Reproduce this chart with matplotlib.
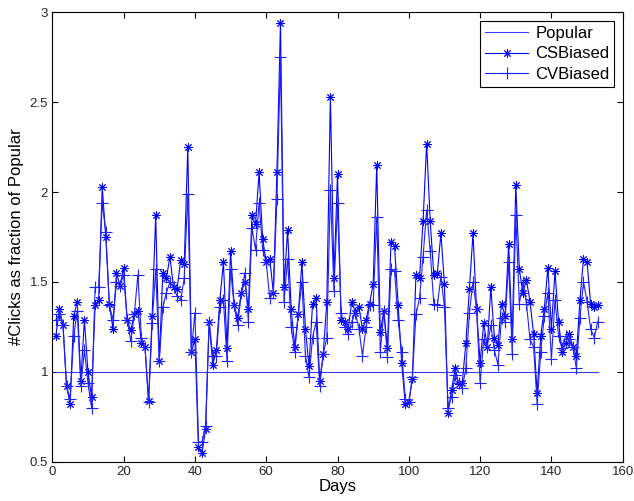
import matplotlib
matplotlib.use("Agg")
import matplotlib.pyplot as plt
from matplotlib.ticker import FormatStrFormatter

plt.rcParams['font.family'] = ['Liberation Sans', 'DejaVu Sans']

# values, days 1..153
cs_biased = [1.20, 1.35, 1.26, 0.92, 0.82, 1.31, 1.39, 0.95, 1.29, 1.00,
             0.86, 1.37, 1.40, 2.03, 1.75, 1.38, 1.24, 1.55, 1.48, 1.58,
             1.29, 1.23, 1.32, 1.34, 1.16, 1.14, 0.84, 1.31, 1.87, 1.06,
             1.55, 1.52, 1.64, 1.47, 1.46, 1.62, 1.60, 2.25, 1.11, 1.18,
             0.58, 0.55, 0.68, 1.28, 1.04, 1.12, 1.40, 1.61, 1.13, 1.67,
             1.37, 1.30, 1.44, 1.50, 1.35, 1.87, 1.82, 2.11, 1.74, 1.61,
             1.63, 1.44, 2.11, 2.94, 1.47, 1.79, 1.35, 1.14, 1.32, 1.61,
             1.24, 1.03, 1.38, 1.41, 0.95, 1.10, 1.39, 2.53, 1.52, 2.10,
             1.29, 1.28, 1.24, 1.39, 1.33, 1.36, 1.24, 1.29, 1.38, 1.49,
             2.15, 1.22, 1.34, 1.13, 1.72, 1.70, 1.37, 1.05, 0.82, 0.83,
             0.96, 1.54, 1.52, 1.84, 2.27, 1.84, 1.54, 1.55, 1.77, 1.49,
             0.77, 0.90, 1.02, 0.93, 0.94, 1.16, 1.46, 1.77, 1.35, 1.05,
             1.27, 1.14, 1.47, 1.19, 1.15, 1.38, 1.31, 1.71, 1.18, 2.04,
             1.57, 1.44, 1.51, 1.39, 1.21, 0.88, 1.20, 1.35, 1.58, 1.24,
             1.56, 1.28, 1.11, 1.16, 1.21, 1.14, 1.09, 1.40, 1.63, 1.61,
             1.38, 1.36, 1.37]

cv_biased = [1.29, 1.32, 1.26, 0.92, 0.85, 1.20, 1.34, 0.92, 1.12, 0.94,
             0.80, 1.47, 1.47, 1.94, 1.78, 1.37, 1.29, 1.50, 1.48, 1.54,
             1.29, 1.17, 1.32, 1.54, 1.19, 1.14, 0.83, 1.27, 1.57, 1.06,
             1.36, 1.44, 1.50, 1.47, 1.42, 1.40, 1.52, 1.99, 1.11, 1.33,
             0.61, 0.61, 0.70, 1.28, 1.09, 1.09, 1.36, 1.40, 1.06, 1.57,
             1.37, 1.26, 1.44, 1.55, 1.28, 1.80, 1.68, 1.94, 1.68, 1.61,
             1.41, 1.44, 1.96, 2.75, 1.39, 1.63, 1.25, 1.11, 1.32, 1.50,
             1.09, 0.97, 1.19, 1.28, 0.92, 1.10, 1.19, 2.01, 1.45, 1.94,
             1.33, 1.25, 1.21, 1.28, 1.33, 1.24, 1.09, 1.25, 1.37, 1.37,
             1.86, 1.11, 1.34, 1.08, 1.57, 1.56, 1.29, 1.11, 0.85, 0.83,
             0.97, 1.32, 1.41, 1.64, 1.90, 1.67, 1.38, 1.37, 1.53, 1.36,
             0.80, 0.86, 0.98, 0.94, 0.91, 1.02, 1.33, 1.50, 1.35, 0.94,
             1.18, 1.14, 1.26, 1.12, 1.04, 1.30, 1.28, 1.61, 1.10, 1.87,
             1.38, 1.50, 1.38, 1.18, 1.14, 0.82, 1.11, 1.31, 1.44, 1.07,
             1.40, 1.20, 1.13, 1.20, 1.18, 1.14, 1.02, 1.30, 1.50, 1.39,
             1.24, 1.19, 1.28]

days = list(range(1, len(cs_biased) + 1))
popular = [1.0] * len(days)

fig = plt.figure(figsize=(6.34, 5.01), dpi=100)
ax = fig.add_axes([0.0825, 0.0784, 0.8997, 0.897])

ax.plot(days, popular, color='#3a3aff', linewidth=0.8, label='Popular')
ax.plot(days, cs_biased, color='#0000ff', linewidth=0.8, marker=(8, 2, 0),
        markersize=6, markeredgewidth=0.7, label='CSBiased')
ax.plot(days, cv_biased, color='#2020ff', linewidth=0.8, marker='+',
        markersize=8, markeredgewidth=0.8, label='CVBiased')

ax.set_xlim(0, 160)
ax.set_ylim(0.5, 3)
ax.set_xticks(range(0, 161, 20))
ax.set_yticks([0.5, 1, 1.5, 2, 2.5, 3])
ax.yaxis.set_major_formatter(FormatStrFormatter('%g'))
ax.tick_params(direction='in', top=True, right=True, labelsize=9.5,
               length=4, labelcolor='#262626', pad=3)

ax.set_xlabel('Days', fontsize=12, labelpad=1)
ax.set_ylabel('#Clicks as fraction of Popular', fontsize=12, labelpad=4)

leg = ax.legend(loc='upper right', fontsize=12, fancybox=False,
                edgecolor='black', framealpha=1, borderpad=0.3,
                handlelength=2.6, handletextpad=0.4, labelspacing=0.35,
                borderaxespad=0.5)
leg.get_frame().set_linewidth(0.8)

plt.savefig('out.png', dpi=100)
